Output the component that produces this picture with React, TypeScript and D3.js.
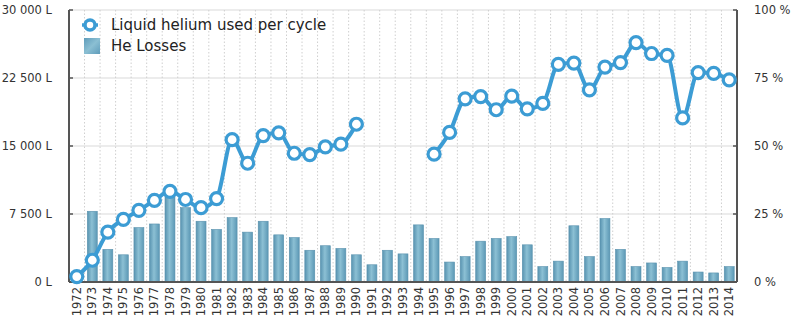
import React from "react";
import * as d3 from "d3";

const years: string[] = d3.range(1972, 2015).map(String);

const heliumUsed: (number | null)[] = [
  600, 2400, 5500, 6900, 7900, 9000, 10000, 9100, 8200, 9200,
  15700, 13100, 16150, 16450, 14200, 14050, 14900, 15200, 17400,
  null, null, null, null,
  14100, 16500, 20200, 20450, 19000, 20500, 19100, 19700, 24000, 24150,
  21200, 23700, 24200, 26400, 25200, 25000, 18100, 23100, 23000, 22300,
];

const heLosses: number[] = [
  0, 7800, 3600, 3000, 6000, 6400, 9400, 8200, 6700, 5800,
  7100, 5500, 6700, 5200, 4900, 3500, 4000, 3700, 3000, 1900,
  3500, 3100, 6300, 4800, 2200, 2800, 4500, 4800, 5000, 4100,
  1700, 2300, 6200, 2800, 7000, 3600, 1700, 2100, 1600, 2300,
  1100, 1000, 1700,
];

const leftTicks: number[] = [0, 7500, 15000, 22500, 30000];
const leftTickLabels: string[] = ["0 L", "7 500 L", "15 000 L", "22 500 L", "30 000 L"];
const rightTicks: number[] = [0, 25, 50, 75, 100];
const rightTickLabels: string[] = ["0 %", "25 %", "50 %", "75 %", "100 %"];

const legendLabels: string[] = ["Liquid helium used per cycle", "He Losses"];

const W = 800;
const H = 323;
const M = { left: 69, right: 63, top: 10, bottom: 41 };
const FONT = "'DejaVu Sans', Verdana, sans-serif";
const LINE_COLOR = "#3c9cd4";

export default function App() {
  const x = d3
    .scaleBand<string>()
    .domain(years)
    .range([M.left, W - M.right]);
  const y = d3.scaleLinear().domain([0, 30000]).range([H - M.bottom, M.top]);
  const yR = d3.scaleLinear().domain([0, 100]).range([H - M.bottom, M.top]);
  const bw = x.bandwidth();
  const barW = bw * 0.64;

  const pts = years.map((yr, i) => ({ yr, v: heliumUsed[i] }));
  const line = d3
    .line<{ yr: string; v: number | null }>()
    .defined((d) => d.v !== null)
    .x((d) => (x(d.yr) as number) + bw / 2)
    .y((d) => y(d.v as number))
    .curve(d3.curveMonotoneX);

  const x0 = M.left;
  const x1 = W - M.right;
  const yb = H - M.bottom;

  return (
    <svg
      width={W}
      height={H}
      style={{ position: "absolute", left: 0, top: 0 }}
      fontFamily={FONT}
    >
      <defs>
        <linearGradient id="barGrad" x1="0" y1="0" x2="1" y2="0">
          <stop offset="0%" stopColor="#5893b0" />
          <stop offset="45%" stopColor="#8cc0d4" />
          <stop offset="100%" stopColor="#5c98b5" />
        </linearGradient>
        <linearGradient id="legGrad" x1="0" y1="0" x2="1" y2="1">
          <stop offset="0%" stopColor="#5f9cba" />
          <stop offset="50%" stopColor="#8bbfd3" />
          <stop offset="100%" stopColor="#5f9cba" />
        </linearGradient>
      </defs>
      <rect x={0} y={0} width={W} height={H} fill="#fff" />

      {leftTicks.map((t) => (
        <line
          key={"hg" + t}
          x1={x0}
          x2={x1}
          y1={y(t)}
          y2={y(t)}
          stroke="#e6e6e6"
          strokeWidth={1.5}
        />
      ))}
      {years.slice(1).map((yr) => (
        <line
          key={"vg" + yr}
          x1={x(yr) as number}
          x2={x(yr) as number}
          y1={M.top}
          y2={yb}
          stroke="#cfcfcf"
          strokeWidth={1}
          strokeDasharray="1.5,2"
        />
      ))}

      {years.map((yr, i) =>
        heLosses[i] > 0 ? (
          <rect
            key={"b" + yr}
            x={(x(yr) as number) + (bw - barW) / 2}
            y={y(heLosses[i])}
            width={barW}
            height={yb - y(heLosses[i])}
            fill="url(#barGrad)"
            stroke="#5992ae"
            strokeWidth={0.6}
          />
        ) : null
      )}

      <line x1={x0} x2={x0} y1={M.top} y2={yb} stroke="#555" strokeWidth={2} />
      <line x1={x1} x2={x1} y1={M.top} y2={yb} stroke="#555" strokeWidth={2} />
      <line x1={x0} x2={x1} y1={yb} y2={yb} stroke="#555" strokeWidth={2} />
      {leftTicks.map((t) => (
        <line key={"lt" + t} x1={x0} x2={x0 + 4} y1={y(t)} y2={y(t)} stroke="#555" strokeWidth={1.5} />
      ))}
      {rightTicks.map((t) => (
        <line key={"rt" + t} x1={x1 - 4} x2={x1} y1={yR(t)} y2={yR(t)} stroke="#555" strokeWidth={1.5} />
      ))}

      <path
        d={line(pts) || ""}
        fill="none"
        stroke={LINE_COLOR}
        strokeWidth={4}
        strokeLinejoin="round"
      />
      {pts.map((d) =>
        d.v !== null ? (
          <circle
            key={"c" + d.yr}
            cx={(x(d.yr) as number) + bw / 2}
            cy={y(d.v)}
            r={6}
            fill="#fff"
            stroke={LINE_COLOR}
            strokeWidth={3.2}
          />
        ) : null
      )}

      {leftTicks.map((t, i) => (
        <text
          key={"ll" + t}
          x={52}
          y={y(t)}
          dy="0.35em"
          textAnchor="end"
          fontSize={11.5}
          fill="#333"
        >
          {leftTickLabels[i]}
        </text>
      ))}
      {rightTicks.map((t, i) => (
        <text
          key={"rl" + t}
          x={W - 46}
          y={yR(t)}
          dy="0.35em"
          textAnchor="start"
          fontSize={11.5}
          fill="#333"
        >
          {rightTickLabels[i]}
        </text>
      ))}

      {years.map((yr) => {
        const cx = (x(yr) as number) + bw / 2;
        return (
          <text
            key={"xl" + yr}
            transform={`translate(${cx},${yb + 5}) rotate(-90)`}
            textAnchor="end"
            dy="0.35em"
            fontSize={11.5}
            fill="#333"
          >
            {yr}
          </text>
        );
      })}

      <circle cx={90} cy={25} r={5} fill="#fff" stroke={LINE_COLOR} strokeWidth={3.5} />
      <line x1={82} x2={84} y1={25} y2={25} stroke={LINE_COLOR} strokeWidth={3.5} />
      <line x1={96} x2={98} y1={25} y2={25} stroke={LINE_COLOR} strokeWidth={3.5} />
      <text x={111} y={25} dy="0.35em" fontSize={15} fill="#222">
        {legendLabels[0]}
      </text>
      <rect x={84} y={38} width={16} height={16} fill="url(#legGrad)" />
      <text x={111} y={46} dy="0.35em" fontSize={15} fill="#222">
        {legendLabels[1]}
      </text>
    </svg>
  );
}
